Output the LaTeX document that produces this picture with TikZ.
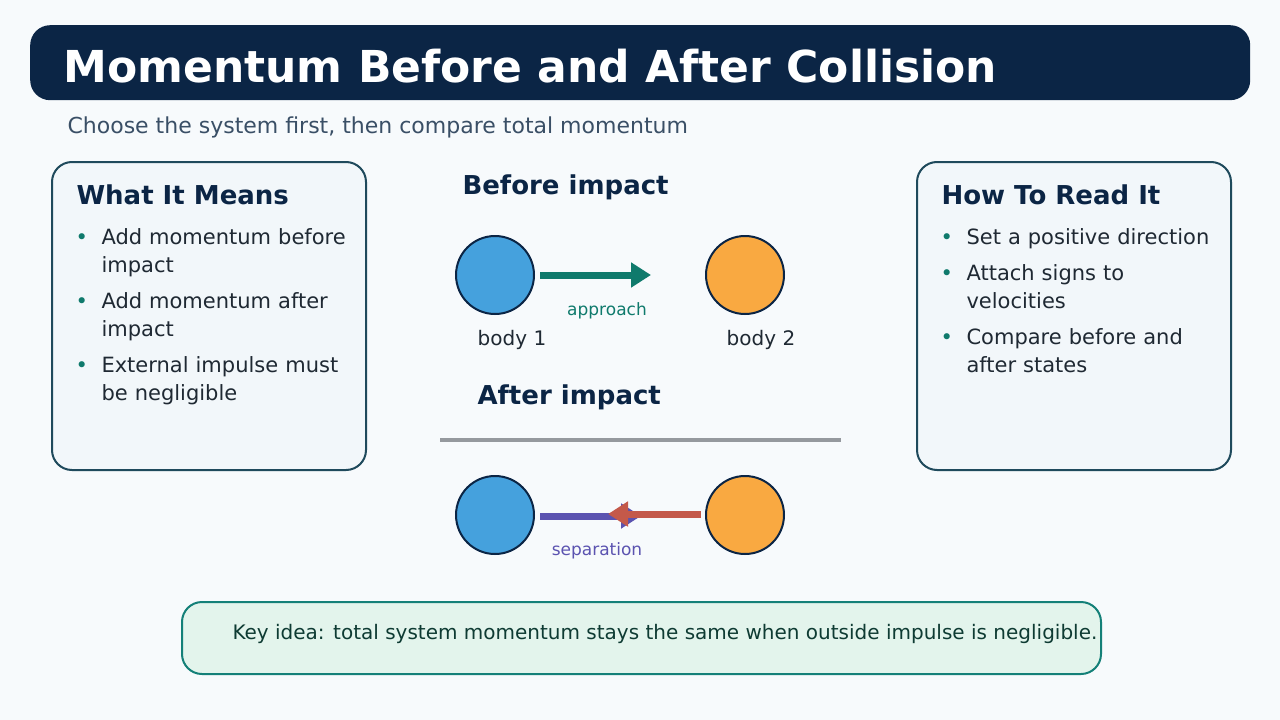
\documentclass[tikz,border=0pt]{standalone}
\usepackage{fontspec}
\setmainfont{DejaVu Sans}
\usetikzlibrary{arrows.meta}
\definecolor{navy}{HTML}{0B2545}
\definecolor{bg}{HTML}{F7FAFC}
\definecolor{boxb}{HTML}{1F4A5C}
\definecolor{boxf}{HTML}{F2F7FA}
\definecolor{teal}{HTML}{0F7A6C}
\definecolor{txt}{HTML}{1F2933}
\definecolor{sub}{HTML}{3A4F66}
\definecolor{blu}{HTML}{45A1DD}
\definecolor{org}{HTML}{F9A941}
\definecolor{pur}{HTML}{5B53B0}
\definecolor{red1}{HTML}{C4594A}
\definecolor{keyf}{HTML}{E3F4EC}
\definecolor{keyb}{HTML}{148078}
\definecolor{keyt}{HTML}{0E3B33}
\tikzset{x=1pt,y=-1pt,
 panel/.style={draw=boxb,fill=boxf,line width=2pt,rounded corners=20pt},
 ball/.style={circle,draw=navy,line width=2pt,minimum size=78pt,inner sep=0pt},
 head/.style={anchor=west,font=\bfseries\fontsize{26}{30}\selectfont,text=navy},
 bul/.style={anchor=north west,font=\fontsize{21}{28}\selectfont,text=txt,align=left,text width=270pt},
 lab/.style={font=\fontsize{20}{24}\selectfont,text=txt},
 arr/.style={line width=7pt,-{Triangle[length=20pt,width=24pt]}}}
\newcommand{\dotb}{\textcolor{teal}{\textbullet}}
\begin{document}
\begin{tikzpicture}
\fill[bg] (0,0) rectangle (1280,720);
\node[fill=navy,rounded corners=20pt,minimum width=1220pt,minimum height=75pt,anchor=north west,inner sep=0pt] (bar) at (30,25) {};
\node[anchor=west,text=white,font=\bfseries\fontsize{44}{50}\selectfont] (title) at (60,66) {Momentum Before and After Collision};
\node[anchor=west,text=sub,font=\fontsize{22}{26}\selectfont] (subt) at (64,127) {Choose the system first, then compare total momentum};
\node[panel,minimum width=314pt,minimum height=308pt,anchor=north west] (lp) at (51,161) {};
\node[panel,minimum width=314pt,minimum height=308pt,anchor=north west] (rp) at (916,161) {};
\node[head] (lh) at (73,195) {What It Means};
\node[head] (rh) at (938,195) {How To Read It};
\foreach \n/\y/\t in {l1/225/{Add momentum before\\impact},l2/289/{Add momentum after\\impact},l3/353/{External impulse must\\be negligible}}{
 \node[bul] (\n) at (72,\y) {\makebox[26pt][l]{\dotb}\parbox[t]{250pt}{\t}};}
\foreach \n/\y/\t in {r1/225/{Set a positive direction},r2/261/{Attach signs to\\velocities},r3/325/{Compare before and\\after states}}{
 \node[bul] (\n) at (937,\y) {\makebox[26pt][l]{\dotb}\parbox[t]{250pt}{\t}};}
\node[head] (bi) at (459,187) {Before impact};
\node[head] (ai) at (474,397) {After impact};
\node[ball,fill=blu] (b1) at (495,275) {};
\node[ball,fill=org] (b2) at (745,275) {};
\node[ball,fill=blu] (a1) at (495,515) {};
\node[ball,fill=org] (a2) at (745,515) {};
\coordinate (bs) at (540,275); \coordinate (be) at (651,275);
\draw[arr,teal] (bs) -- (be);
\node[text=teal,font=\fontsize{17}{20}\selectfont] (ap) at (607,311) {approach};
\node[lab] (l1) at (512,340) {body 1};
\node[lab] (l2) at (761,340) {body 2};
\coordinate (d1) at (440,440); \coordinate (d2) at (841,440);
\draw[line width=4pt,color=gray!80!navy!70] (d1) -- (d2);
\coordinate (ps) at (540,516); \coordinate (pe) at (641,516);
\coordinate (rs) at (701,514); \coordinate (re) at (608,514);
\draw[arr,pur] (ps) -- (pe);
\draw[arr,red1] (rs) -- (re);
\node[text=pur,font=\fontsize{17}{20}\selectfont] (sep) at (597,551) {separation};
\node[draw=keyb,fill=keyf,line width=2pt,rounded corners=20pt,minimum width=919pt,minimum height=72pt,anchor=north west] (key) at (181,601) {};
\node[anchor=west,text=keyt,font=\fontsize{20}{24}\selectfont] (kt) at (229,634) {Key idea: total system momentum stays the same when outside impulse is negligible.};
\end{tikzpicture}
\end{document}
